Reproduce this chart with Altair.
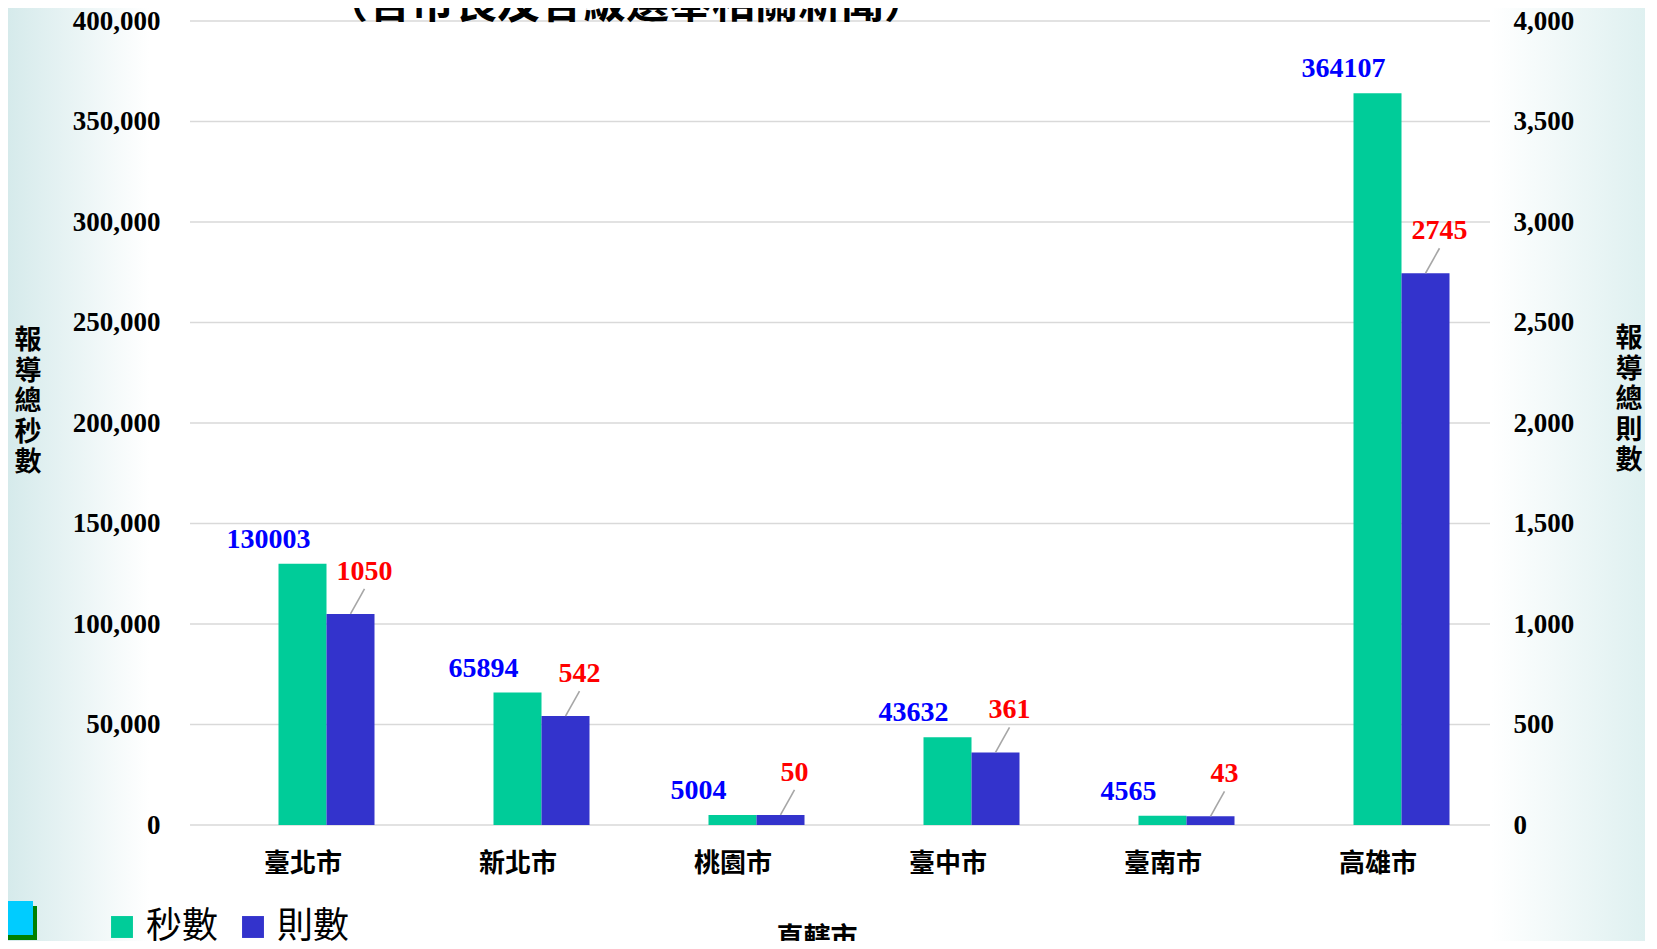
import json
import altair as alt
import pandas as pd

cities = ["臺北市", "新北市", "桃園市", "臺中市", "臺南市", "高雄市"]
seconds = [130003, 65894, 5004, 43632, 4565, 364107]
counts = [1050, 542, 50, 361, 43, 2745]
series_names = ["秒數", "則數"]
series_colors = ["#00CC99", "#3333CC"]
left_ticks = [0, 50000, 100000, 150000, 200000, 250000, 300000, 350000, 400000]
right_ticks = [0, 500, 1000, 1500, 2000, 2500, 3000, 3500, 4000]

df = pd.DataFrame({"idx": list(range(len(cities))), "city": cities,
                   "seconds": seconds, "counts": counts})
grid_df = pd.DataFrame({"seconds": left_ticks})
one = alt.Data(values=[{"k": 1}])

CJK = "Noto Sans CJK TC"
NUM = "Liberation Serif"
W, H = 1300, 804

X = alt.X(
    "idx:Q",
    scale=alt.Scale(domain=[-0.5, len(cities) - 0.5], nice=False, zero=False),
    axis=alt.Axis(
        values=list(range(len(cities))),
        labelExpr=json.dumps(cities, ensure_ascii=False) + "[datum.value]",
        grid=False, domain=False, ticks=False, tickSize=0, labelPadding=25,
        labelFont=CJK, labelFontSize=26, labelFontWeight="bold",
        labelColor="#000000", title=None, zindex=1,
    ),
)

color_scale = alt.Scale(domain=series_names, range=series_colors)
legend = alt.Legend(
    orient="none", legendX=-86, legendY=888, direction="horizontal",
    title=None, symbolType="square", symbolSize=480, symbolStrokeWidth=0,
    symbolOpacity=1, labelFont=CJK, labelFontSize=36, labelColor="#000000",
    labelOffset=6, columnPadding=16, padding=0, zindex=1,
)
COLOR = alt.Color("series:N", scale=color_scale, legend=legend)

YL = alt.Y(
    "seconds:Q",
    scale=alt.Scale(domain=[0, 400000], nice=False),
    axis=alt.Axis(
        orient="left", values=left_ticks, format=",d", grid=False,
        domain=False, ticks=False, tickSize=0, labelPadding=30,
        labelFont=NUM, labelFontSize=27, labelFontWeight="bold",
        labelColor="#000000", title=None, zindex=1,
    ),
)
YR = alt.Y(
    "counts:Q",
    scale=alt.Scale(domain=[0, 4000], nice=False),
    axis=alt.Axis(
        orient="right", values=right_ticks, format=",d", grid=False,
        domain=False, ticks=False, tickSize=0, labelPadding=23,
        labelFont=NUM, labelFontSize=27, labelFontWeight="bold",
        labelColor="#000000", labelAlign="left", title=None, zindex=1,
    ),
)

bg = alt.Chart(one).mark_rect(
    color=alt.Gradient(
        gradient="linear",
        stops=[
            alt.GradientStop(color="#d3e9ea", offset=0),
            alt.GradientStop(color="#ffffff", offset=0.09),
            alt.GradientStop(color="#ffffff", offset=0.9),
            alt.GradientStop(color="#dcefef", offset=1),
        ],
        x1=0, x2=1, y1=0, y2=0,
    )
).encode(x=alt.value(-190), x2=alt.value(1467), y=alt.value(-21), y2=alt.value(930))

deco_shadow = alt.Chart(one).mark_rect(color="#008000").encode(
    x=alt.value(-186), x2=alt.value(-153), y=alt.value(885), y2=alt.value(919))
deco_box = alt.Chart(one).mark_rect(color="#00CCFF").encode(
    x=alt.value(-190), x2=alt.value(-157), y=alt.value(880), y2=alt.value(914))

grid = alt.Chart(grid_df).mark_rule(color="#D9D9D9", strokeWidth=1.6).encode(
    y=YL, x=alt.value(0), x2=alt.value(W))

green_bar = alt.Chart(df).transform_calculate(series="'秒數'").mark_bar(size=48).encode(
    x=X, y=YL, color=COLOR,
)
green_text = alt.Chart(df).mark_text(
    dx=-34, dy=-16, baseline="alphabetic", align="center", font=NUM,
    fontWeight="bold", fontSize=28, color="#0000FF",
).encode(x=X, y=YL, text=alt.Text("seconds:Q", format="d"))

blue_bar = alt.Chart(df).transform_calculate(series="'則數'").mark_bar(size=48, xOffset=48).encode(
    x=X, y=YR, color=COLOR,
)
leader = alt.Chart(df).mark_rule(
    xOffset=48, x2Offset=62, y2Offset=-25, color="#A6A6A6", strokeWidth=1.6
).encode(x=X, x2="idx:Q", y=YR, y2="counts:Q")
red_text = alt.Chart(df).mark_text(
    dx=62, dy=-34, baseline="alphabetic", align="center", font=NUM,
    fontWeight="bold", fontSize=28, color="#FF0000",
).encode(x=X, y=YR, text=alt.Text("counts:Q", format="d"))

left_title = alt.Chart(one).mark_text(
    text=list("報導總秒數"), lineHeight=30.5, font=CJK, fontWeight="bold",
    fontSize=27, baseline="middle", align="center", color="#000000",
).encode(x=alt.value(-162), y=alt.value(320))
right_title = alt.Chart(one).mark_text(
    text=list("報導總則數"), lineHeight=30.5, font=CJK, fontWeight="bold",
    fontSize=27, baseline="middle", align="center", color="#000000",
).encode(x=alt.value(1439), y=alt.value(318))
x_title = alt.Chart(one).mark_text(
    text="直轄市", font=CJK, fontWeight="bold", fontSize=27,
    baseline="middle", align="center", color="#000000",
).encode(x=alt.value(627), y=alt.value(918))
top_title = alt.Chart(one).mark_text(
    text="（含市長及各級選舉相關新聞）", font=CJK, fontWeight="bold",
    fontSize=43, baseline="alphabetic", align="center", color="#000000",
).encode(x=alt.value(436), y=alt.value(-3))

left = alt.layer(grid, green_bar, green_text)
right = alt.layer(blue_bar, leader, red_text)

chart = alt.layer(
    bg, deco_shadow, deco_box, left, right,
    left_title, right_title, x_title, top_title,
).resolve_scale(y="independent").properties(
    width=W, height=H,
    autosize=alt.AutoSizeParams(type="none"),
    padding={"left": 182, "top": 13, "right": 155, "bottom": 116},
    background="#ffffff",
).configure_view(stroke=None)

chart.save("out.html", embed_options={"renderer": "svg", "actions": False})
